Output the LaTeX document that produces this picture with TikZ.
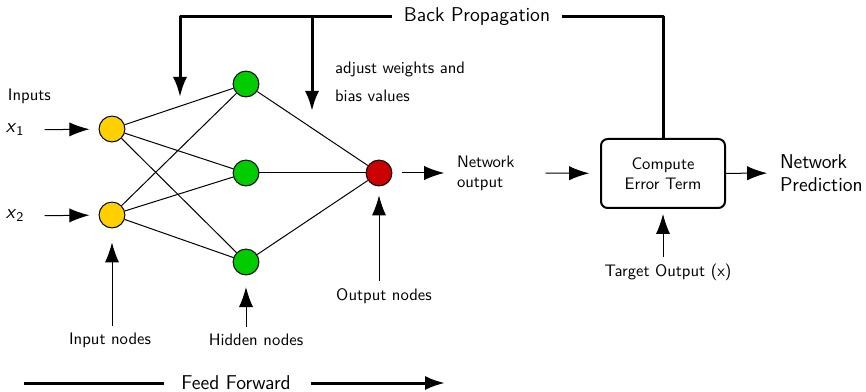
\documentclass[tikz,border=0pt]{standalone}
\usetikzlibrary{arrows.meta}
\renewcommand{\familydefault}{\sfdefault}
\definecolor{inyellow}{RGB}{255,208,0}
\definecolor{hidgreen}{RGB}{0,204,0}
\definecolor{outred}{RGB}{204,0,0}
\begin{document}
\begin{tikzpicture}[x=0.6pt,y=-0.6pt,>={Latex[length=12pt,width=8.5pt]},line join=round,
	neuron/.style={circle,draw,line width=0.6pt,minimum size=15.5pt,inner sep=0pt},
	lbl/.style={inner sep=1pt},
	big/.style={font=\large,inner sep=1pt},
	thin/.style={line width=0.6pt},
	fat/.style={line width=1.8pt}]
	\useasboundingbox (0,0) rectangle (866,392);
	% network
	\node[neuron,fill=inyellow] (i1) at (112,129) {};
	\node[neuron,fill=inyellow] (i2) at (112,215) {};
	\node[neuron,fill=hidgreen] (h1) at (246,84) {};
	\node[neuron,fill=hidgreen] (h2) at (246,173) {};
	\node[neuron,fill=hidgreen] (h3) at (246,262) {};
	\node[neuron,fill=outred] (o) at (379,173) {};
	\foreach \i in {1,2}
		\foreach \h in {1,2,3}
			\draw[thin] (i\i) -- (h\h);
	\foreach \h in {1,2,3}
		\draw[thin] (h\h) -- (o);
	% inputs
	\node[lbl,anchor=west] (inp) at (6,96) {Inputs};
	\node[lbl,font=\large] (x1) at (15,130) {\textsl{x}\textsubscript{1}};
	\node[lbl,font=\large] (x2) at (15,216) {\textsl{x}\textsubscript{2}};
	\draw[thin,->,shorten <=11pt,shorten >=5.5pt] (x1) -- (i1);
	\draw[thin,->,shorten <=11pt,shorten >=5.5pt] (x2) -- (i2);
	% output side
	\node[lbl,anchor=west,align=left] (nout) at (455,173) {Network\\output};
	\draw[thin,->,shorten <=6pt,shorten >=6.5pt] (o) -- (nout);
	\node[draw,rounded corners=4pt,line width=1.2pt,minimum width=74.4pt,minimum height=41.4pt,align=center] (err) at (663,173.5) {Compute\\Error Term};
	\draw[thin,->,shorten <=17.5pt,shorten >=6.5pt] (nout) -- (err);
	\node[big,anchor=west,align=left] (pred) at (778,173) {Network\\Prediction};
	\draw[thin,->,shorten >=6.5pt] (err) -- (pred);
	\node[lbl] (tgt) at (668,272) {Target Output (x)};
	\draw[thin,->,shorten <=3pt,shorten >=3pt] (err.south |- tgt.north) -- (err.south);
	% back propagation
	\node[big,inner xsep=7pt] (bp) at (477,17) {Back Propagation};
	\coordinate (t1) at (180,97);
	\coordinate (t2) at (312,111);
	\draw[fat] (bp.east) -| (err.north);
	\draw[fat,->] (bp.west) -| (t1);
	\draw[fat,->] (bp.west -| t2) -- (t2);
	\node[lbl,anchor=west,align=left] (adj) at (333,82) {adjust weights and\\[5pt]bias values};
	% layer labels
	\node[lbl] (inl) at (110,340) {Input nodes};
	\node[lbl] (hidl) at (256,340) {Hidden nodes};
	\node[lbl] (outl) at (384,296) {Output nodes};
	\draw[thin,->,shorten <=3pt,shorten >=8.4pt] (i2.south |- inl.north) -- (i2.south);
	\draw[thin,->,shorten <=3pt,shorten >=7pt] (h3.south |- hidl.north) -- (h3.south);
	\draw[thin,->,shorten <=3.5pt,shorten >=5.4pt] (o.south |- outl.north) -- (o.south);
	% feed forward
	\node[big,inner sep=0pt] (ff) at (236,383) {Feed Forward};
	\coordinate (fs) at (24,383);
	\coordinate (fe) at (445,383);
	\draw[fat,shorten >=10pt] (fs) -- (ff.west);
	\draw[fat,->,shorten <=12pt] (ff.east) -- (fe);
\end{tikzpicture}
\end{document}
